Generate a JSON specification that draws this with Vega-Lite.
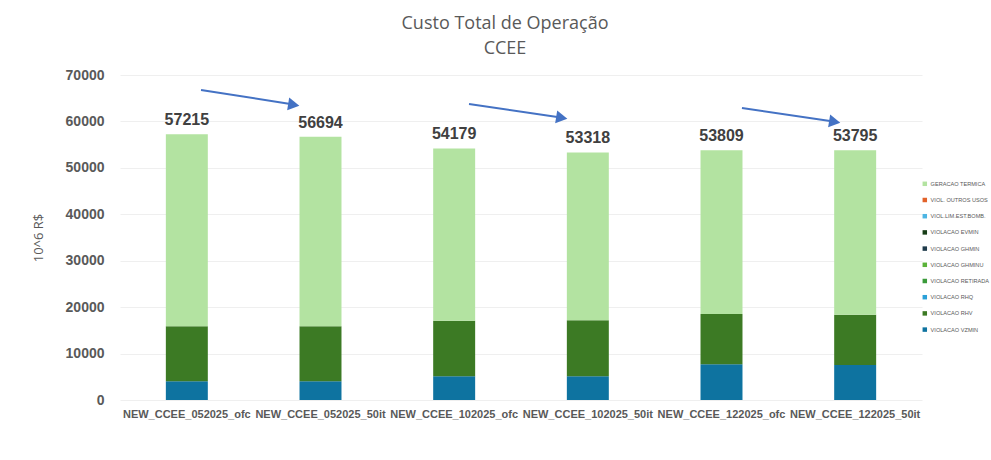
{
  "$schema": "https://vega.github.io/schema/vega-lite/v6.json",
  "width": 802,
  "height": 325,
  "autosize": "none",
  "padding": {"left": 120, "top": 75, "right": 69, "bottom": 60},
  "background": "white",
  "title": {
    "text": ["Custo Total de Operação", "CCEE"],
    "anchor": "middle",
    "frame": "group",
    "dx": -16,
    "offset": 10,
    "fontSize": 18,
    "lineHeight": 25,
    "font": "Open Sans",
    "fontWeight": "normal",
    "color": "#595959"
  },
  "config": {
    "view": {"stroke": null},
    "font": "Liberation Sans"
  },
  "datasets": {
    "costs": [
      {"run": "NEW_CCEE_052025_ofc", "cat": "VIOLACAO VZMIN", "value": 4030},
      {"run": "NEW_CCEE_052025_ofc", "cat": "VIOLACAO RHV", "value": 11840},
      {"run": "NEW_CCEE_052025_ofc", "cat": "GERACAO TERMICA", "value": 41345},
      {"run": "NEW_CCEE_052025_50it", "cat": "VIOLACAO VZMIN", "value": 4030},
      {"run": "NEW_CCEE_052025_50it", "cat": "VIOLACAO RHV", "value": 11840},
      {"run": "NEW_CCEE_052025_50it", "cat": "GERACAO TERMICA", "value": 40824},
      {"run": "NEW_CCEE_102025_ofc", "cat": "VIOLACAO VZMIN", "value": 5100},
      {"run": "NEW_CCEE_102025_ofc", "cat": "VIOLACAO RHV", "value": 11980},
      {"run": "NEW_CCEE_102025_ofc", "cat": "GERACAO TERMICA", "value": 37099},
      {"run": "NEW_CCEE_102025_50it", "cat": "VIOLACAO VZMIN", "value": 5100},
      {"run": "NEW_CCEE_102025_50it", "cat": "VIOLACAO RHV", "value": 12070},
      {"run": "NEW_CCEE_102025_50it", "cat": "GERACAO TERMICA", "value": 36148},
      {"run": "NEW_CCEE_122025_ofc", "cat": "VIOLACAO VZMIN", "value": 7690},
      {"run": "NEW_CCEE_122025_ofc", "cat": "VIOLACAO RHV", "value": 10830},
      {"run": "NEW_CCEE_122025_ofc", "cat": "GERACAO TERMICA", "value": 35289},
      {"run": "NEW_CCEE_122025_50it", "cat": "VIOLACAO VZMIN", "value": 7540},
      {"run": "NEW_CCEE_122025_50it", "cat": "VIOLACAO RHV", "value": 10840},
      {"run": "NEW_CCEE_122025_50it", "cat": "GERACAO TERMICA", "value": 35415},
      {"run": "NEW_CCEE_052025_ofc", "cat": "VIOL. OUTROS USOS", "value": 0},
      {"run": "NEW_CCEE_052025_ofc", "cat": "VIOL.LIM.EST.BOMB.", "value": 0},
      {"run": "NEW_CCEE_052025_ofc", "cat": "VIOLACAO EVMIN", "value": 0},
      {"run": "NEW_CCEE_052025_ofc", "cat": "VIOLACAO GHMIN", "value": 0},
      {"run": "NEW_CCEE_052025_ofc", "cat": "VIOLACAO GHMINU", "value": 0},
      {"run": "NEW_CCEE_052025_ofc", "cat": "VIOLACAO RETIRADA", "value": 0},
      {"run": "NEW_CCEE_052025_ofc", "cat": "VIOLACAO RHQ", "value": 0}
    ],
    "arrows": [
      {"x1": 0.606, "y1": 66769, "x2": 1.31, "y2": 63600, "hx": 1.30, "hy": 63590},
      {"x1": 2.611, "y1": 63754, "x2": 3.31, "y2": 60800, "hx": 3.305, "hy": 60790},
      {"x1": 4.653, "y1": 62892, "x2": 5.35, "y2": 59940, "hx": 5.347, "hy": 59930}
    ]
  },
  "layer": [
    {
      "data": {"name": "costs"},
      "encoding": {
        "x": {
          "field": "run", "type": "nominal", "sort": null,
          "scale": {"paddingInner": 0.686, "paddingOuter": 0.343},
          "axis": {
            "title": null, "labelAngle": 0, "labelFontSize": 11, "labelFontWeight": "bold",
            "labelColor": "#595959", "domain": false, "ticks": false, "labelPadding": 8
          }
        }
      },
      "layer": [
        {
          "mark": {"type": "bar"},
          "encoding": {
            "y": {
              "field": "value", "type": "quantitative", "aggregate": "sum", "stack": "zero",
              "scale": {"domain": [0, 70000], "nice": false},
              "axis": {
                "title": "10^6 R$", "titleFontSize": 13, "titleFontWeight": "normal", "titleColor": "#595959",
                "titleFont": "Open Sans", "titlePadding": 20,
                "values": [0, 10000, 20000, 30000, 40000, 50000, 60000, 70000],
                "format": "d", "labelFontSize": 14, "labelFontWeight": "bold", "labelColor": "#595959",
                "labelPadding": 16, "domain": false, "ticks": false, "gridColor": "#efefef", "gridWidth": 1
              }
            },
            "color": {
              "field": "cat", "type": "nominal", "sort": "ascending",
              "scale": {
                "domain": ["GERACAO TERMICA", "VIOL. OUTROS USOS", "VIOL.LIM.EST.BOMB.", "VIOLACAO EVMIN", "VIOLACAO GHMIN", "VIOLACAO GHMINU", "VIOLACAO RETIRADA", "VIOLACAO RHQ", "VIOLACAO RHV", "VIOLACAO VZMIN"],
                "range": ["#b3e3a1", "#e2622a", "#4db5e3", "#173d17", "#1f3b4b", "#5bb33a", "#3a9a3a", "#2ba0d8", "#3c7a24", "#0e73a0"]
              },
              "legend": {
                "title": null, "orient": "none", "legendX": 802, "legendY": 106,
                "labelFont": "Liberation Sans", "labelFontSize": 5.6, "labelColor": "#595959",
                "symbolType": "square", "symbolSize": 20, "symbolStrokeWidth": 0,
                "rowPadding": 9.2, "labelOffset": 3, "symbolOffset": 0, "labelLimit": 80
              }
            },
            "order": {"field": "cat", "sort": "descending"}
          }
        },
        {
          "mark": {"type": "text", "baseline": "bottom", "dy": -6, "fontSize": 16, "fontWeight": "bold", "color": "#404040"},
          "encoding": {
            "y": {"field": "value", "type": "quantitative", "aggregate": "sum"},
            "text": {"field": "value", "type": "quantitative", "aggregate": "sum", "format": "d"}
          }
        }
      ]
    },
    {
      "data": {"name": "arrows"},
      "layer": [
        {
          "mark": {"type": "rule", "color": "#4472c4", "strokeWidth": 2},
          "encoding": {
            "x": {"field": "x1", "type": "quantitative", "scale": {"domain": [0, 6], "nice": false, "zero": false}, "axis": null},
            "y": {"field": "y1", "type": "quantitative"},
            "x2": {"field": "x2"},
            "y2": {"field": "y2"}
          }
        },
        {
          "mark": {"type": "point", "shape": "triangle-right", "angle": 9, "size": 170, "filled": true, "opacity": 1, "color": "#4472c4"},
          "encoding": {
            "x": {"field": "hx", "type": "quantitative", "scale": {"domain": [0, 6], "nice": false, "zero": false}, "axis": null},
            "y": {"field": "hy", "type": "quantitative"}
          }
        }
      ]
    }
  ],
  "resolve": {"scale": {"x": "independent"}, "axis": {"x": "independent"}}
}
